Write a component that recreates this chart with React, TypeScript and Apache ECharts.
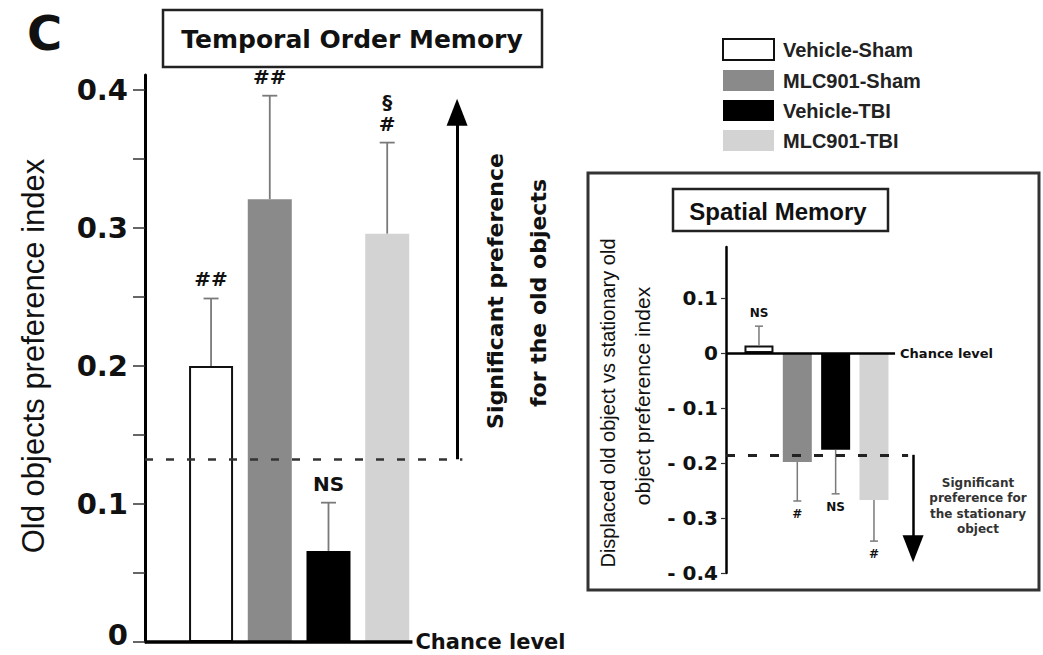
import React, { useEffect, useRef } from 'react';
import * as echarts from 'echarts';

// ---------- data ----------
const groups = ['Vehicle-Sham', 'MLC901-Sham', 'Vehicle-TBI', 'MLC901-TBI'];
const groupColors = ['#ffffff', '#8a8a8a', '#000000', '#d3d3d3'];

const temporalMeans = [0.2, 0.321, 0.066, 0.296];
const temporalErrors = [0.049, 0.075, 0.035, 0.066];
const temporalMarks = ['##', '##', 'NS', '§\n#'];
const temporalTickValues = [0, 0.05, 0.1, 0.15, 0.2, 0.25, 0.3, 0.35, 0.4];
const temporalLabelValues = [0, 0.1, 0.2, 0.3, 0.4];
const temporalThreshold = 0.1325;
const temporalArrowTop = 0.384;

const spatialMeans = [0.014, -0.198, -0.176, -0.267];
const spatialErrors = [0.035, 0.071, 0.08, 0.075];
const spatialMarks = ['NS', '#', 'NS', '#'];
const spatialTickValues = [0.1, 0, -0.1, -0.2, -0.3, -0.4];
const spatialThreshold = -0.185;
const spatialArrowBottom = -0.356;

// ---------- layout ----------
const MAIN = { xMin: -1.125, xMax: 4.41, baseEnd: 3.43, dashEnd: 4.28, arrowX: 4.19, yMax: 0.411 };
const INSET = { xMin: -0.86, xMax: 4.07, baseEnd: 3.55, dashEnd: 3.89, arrowX: 4.02, yMin: -0.4, yMax: 0.193 };

const DJ = '"DejaVu Sans", sans-serif';
const LS = '"Liberation Sans", Arial, sans-serif';

function errorRenderer(marks: string[], cap: number, lw: number, font: string, gap: number, lineHeight: number) {
  return (params: any, api: any) => {
    const i = api.value(0);
    const m = api.value(1);
    const e = api.value(2);
    const dir = m >= 0 ? 1 : -1;
    const p0 = api.coord([i, m]);
    const p1 = api.coord([i, m + dir * e]);
    const label = marks[params.dataIndex];
    const va = dir > 0 ? 'bottom' : 'top';
    return {
      type: 'group',
      children: [
        { type: 'line', shape: { x1: p0[0], y1: p0[1], x2: p1[0], y2: p1[1] }, style: { stroke: '#7a7a7a', lineWidth: lw } },
        { type: 'line', shape: { x1: p1[0] - cap / 2, y1: p1[1], x2: p1[0] + cap / 2, y2: p1[1] }, style: { stroke: '#7a7a7a', lineWidth: lw } },
        {
          type: 'text',
          x: p1[0],
          y: dir > 0 ? p1[1] - gap : p1[1] + gap,
          style: {
            text: label, font, fill: '#111', lineHeight,
            align: 'center', verticalAlign: va, textAlign: 'center', textVerticalAlign: va,
          },
        },
      ],
    };
  };
}

function buildOption(): any {
  const mainBars = groups.map((name, i) => ({
    type: 'bar', name, xAxisIndex: 0, yAxisIndex: 0, barWidth: 44, barGap: '-100%',
    data: [[i, temporalMeans[i]]],
    itemStyle: { color: groupColors[i], borderColor: '#111', borderWidth: i === 0 ? 2 : 0 },
    markLine: i === 0 ? {
      silent: true, symbol: 'none', animation: false,
      data: [
        [
          { coord: [MAIN.xMin, 0], lineStyle: { color: '#000', width: 3.5, type: 'solid' },
            label: { show: true, position: 'end', formatter: 'Chance level', distance: 3, color: '#111', fontFamily: DJ, fontWeight: 'bold', fontSize: 21 } },
          { coord: [MAIN.baseEnd, 0] },
        ],
        [
          { coord: [MAIN.xMin, temporalThreshold], lineStyle: { color: '#333', width: 2.5, type: [8, 13] }, label: { show: false } },
          { coord: [MAIN.dashEnd, temporalThreshold] },
        ],
        [
          { coord: [MAIN.arrowX, temporalThreshold], lineStyle: { color: '#000', width: 3, type: 'solid' }, label: { show: false } },
          { coord: [MAIN.arrowX, temporalArrowTop], symbol: 'triangle', symbolSize: [21, 27] },
        ],
      ],
    } : undefined,
  }));

  const insetBars = groups.map((name, i) => ({
    type: 'bar', name, xAxisIndex: 1, yAxisIndex: 1, barWidth: 29, barGap: '-100%',
    data: [[i, spatialMeans[i]]],
    itemStyle: { color: groupColors[i], borderColor: '#111', borderWidth: i === 0 ? 2 : 0 },
    markLine: i === 0 ? {
      silent: true, symbol: 'none', animation: false,
      data: [
        [
          { coord: [INSET.xMin, 0], lineStyle: { color: '#000', width: 2.5, type: 'solid' },
            label: { show: true, position: 'end', formatter: 'Chance level', distance: 5, color: '#111', fontFamily: DJ, fontWeight: 'bold', fontSize: 13 } },
          { coord: [INSET.baseEnd, 0] },
        ],
        [
          { coord: [INSET.xMin, spatialThreshold], lineStyle: { color: '#222', width: 3, type: [9, 13] }, label: { show: false } },
          { coord: [INSET.dashEnd, spatialThreshold] },
        ],
        [
          { coord: [INSET.arrowX, spatialThreshold], lineStyle: { color: '#000', width: 2.5, type: 'solid' }, label: { show: false } },
          { coord: [INSET.arrowX, spatialArrowBottom], symbol: 'triangle', symbolSize: [21, 27] },
        ],
      ],
    } : undefined,
  }));

  const mainLabelFont = { fontFamily: DJ, fontWeight: 'bold', fontSize: 29, color: '#111' };

  return {
    animation: false,
    backgroundColor: '#ffffff',
    grid: [
      { left: 145, top: 75, width: 325, height: 567, containLabel: false, outerBoundsMode: 'none' },
      { left: 726, top: 247, width: 189, height: 326, containLabel: false, outerBoundsMode: 'none' },
    ],
    legend: {
      data: groups, orient: 'vertical', left: 717, top: 33,
      itemWidth: 51, itemHeight: 21, itemGap: 9, icon: 'rect', selectedMode: false,
      textStyle: { fontFamily: LS, fontWeight: 'bold', fontSize: 20, color: '#222', padding: [0, 0, 0, 4] },
    },
    xAxis: [
      { gridIndex: 0, type: 'value', min: MAIN.xMin, max: MAIN.xMax, show: false },
      { gridIndex: 1, type: 'value', min: INSET.xMin, max: INSET.xMax, show: false },
    ],
    yAxis: [
      {
        gridIndex: 0, type: 'value', min: 0, max: MAIN.yMax,
        axisLine: { show: true, onZero: false, lineStyle: { color: '#000', width: 3 } },
        axisTick: { show: true, length: 12, customValues: temporalTickValues, lineStyle: { color: '#333', width: 1.5 } },
        axisLabel: {
          customValues: temporalLabelValues, margin: 17,
          ...mainLabelFont,
          formatter: (v: number) => (v === 0 ? '{z|0}' : v.toFixed(1)),
          rich: { z: { ...mainLabelFont, padding: [0, 0, 14, 0] } },
        },
        splitLine: { show: false },
      },
      {
        gridIndex: 1, type: 'value', min: INSET.yMin, max: INSET.yMax,
        axisLine: { show: true, onZero: false, lineStyle: { color: '#000', width: 2.5 } },
        axisTick: { show: true, length: 5, customValues: spatialTickValues, lineStyle: { color: '#333', width: 1.2 } },
        axisLabel: {
          customValues: spatialTickValues, margin: 8, color: '#111',
          fontFamily: DJ, fontWeight: 'bold', fontSize: 20,
          formatter: (v: number) => (Math.abs(v) < 1e-9 ? '0' : v < 0 ? '- ' + (-v).toFixed(1) : v.toFixed(1)),
        },
        splitLine: { show: false },
      },
    ],
    series: [
      ...mainBars,
      ...insetBars,
      {
        type: 'custom', xAxisIndex: 0, yAxisIndex: 0, silent: true, z: 3,
        data: temporalMeans.map((m, i) => [i, m, temporalErrors[i]]),
        renderItem: errorRenderer(temporalMarks, 15, 1.8, 'bold 20px ' + DJ, 8, 22),
      },
      {
        type: 'custom', xAxisIndex: 1, yAxisIndex: 1, silent: true, z: 3,
        data: spatialMeans.map((m, i) => [i, m, spatialErrors[i]]),
        renderItem: errorRenderer(spatialMarks, 8, 1.5, 'bold 12px ' + DJ, 6, 14),
      },
    ],
    graphic: [
      { type: 'text', x: 27, y: 33, style: { text: 'C', font: 'bold 48px ' + DJ, fill: '#111', align: 'left', verticalAlign: 'middle', textAlign: 'left', textVerticalAlign: 'middle' } },
      { type: 'rect', shape: { x: 163, y: 10, width: 379, height: 57 }, style: { fill: 'none', stroke: '#222', lineWidth: 2.5 } },
      { type: 'text', x: 352, y: 39, style: { text: 'Temporal Order Memory', font: 'bold 25px ' + DJ, fill: '#111', align: 'center', verticalAlign: 'middle', textAlign: 'center', textVerticalAlign: 'middle' } },
      { type: 'text', x: 33, y: 356, rotation: Math.PI / 2, style: { text: 'Old objects preference index', font: '31px ' + LS, fill: '#111', align: 'center', verticalAlign: 'middle', textAlign: 'center', textVerticalAlign: 'middle' } },
      { type: 'text', x: 495, y: 291, rotation: Math.PI / 2, style: { text: 'Significant preference', font: 'bold 22px ' + DJ, fill: '#111', align: 'center', verticalAlign: 'middle', textAlign: 'center', textVerticalAlign: 'middle' } },
      { type: 'text', x: 538, y: 293, rotation: Math.PI / 2, style: { text: 'for the old objects', font: 'bold 22px ' + DJ, fill: '#111', align: 'center', verticalAlign: 'middle', textAlign: 'center', textVerticalAlign: 'middle' } },
      { type: 'rect', shape: { x: 588, y: 173, width: 451, height: 417 }, style: { fill: 'none', stroke: '#333', lineWidth: 3 } },
      { type: 'rect', shape: { x: 673, y: 189, width: 215, height: 42 }, style: { fill: 'none', stroke: '#222', lineWidth: 2.5 } },
      { type: 'text', x: 778, y: 211, style: { text: 'Spatial Memory', font: 'bold 24px ' + LS, fill: '#111', align: 'center', verticalAlign: 'middle', textAlign: 'center', textVerticalAlign: 'middle' } },
      { type: 'text', x: 608, y: 403, rotation: Math.PI / 2, style: { text: 'Displaced old object vs stationary old', font: '20px ' + LS, fill: '#111', align: 'center', verticalAlign: 'middle', textAlign: 'center', textVerticalAlign: 'middle' } },
      { type: 'text', x: 642, y: 396, rotation: Math.PI / 2, style: { text: 'object preference index', font: '21px ' + LS, fill: '#111', align: 'center', verticalAlign: 'middle', textAlign: 'center', textVerticalAlign: 'middle' } },
      { type: 'text', x: 978, y: 506, style: { text: 'Significant\npreference for\nthe stationary\nobject', font: 'bold 12px ' + DJ, lineHeight: 15.5, fill: '#333', align: 'center', verticalAlign: 'middle', textAlign: 'center', textVerticalAlign: 'middle' } },
    ],
  };
}

export default function App() {
  const ref = useRef<HTMLDivElement>(null);
  useEffect(() => {
    if (!ref.current) return;
    const chart = echarts.init(ref.current, undefined, { renderer: 'svg' });
    chart.setOption(buildOption());
    return () => chart.dispose();
  }, []);
  return <div ref={ref} style={{ position: 'fixed', left: 0, top: 0, width: 1043, height: 655, background: '#fff' }} />;
}
